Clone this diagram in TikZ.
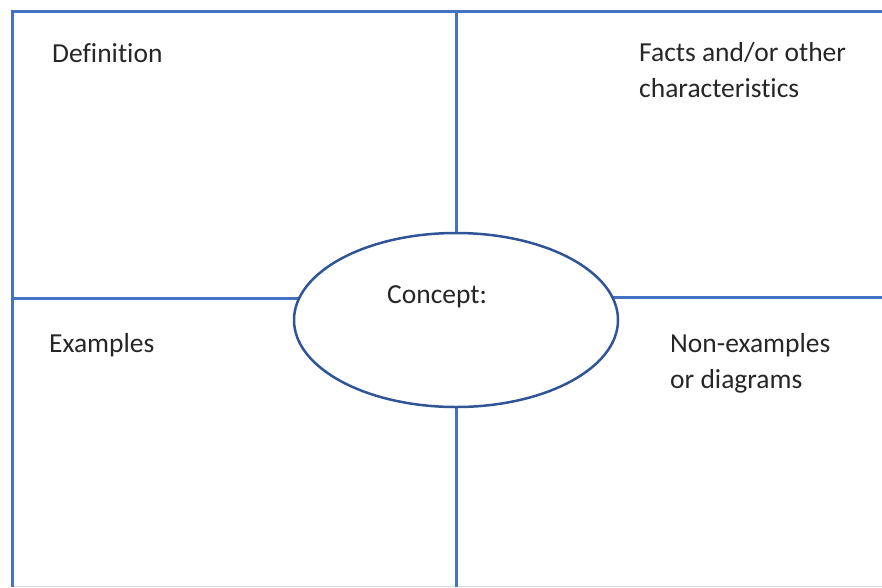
\documentclass[tikz,border=0pt]{standalone}
\usepackage{fontspec}
\setmainfont[Ligatures=NoCommon]{Carlito}
\usetikzlibrary{shapes.geometric,backgrounds}
\definecolor{frameblue}{HTML}{4472C4}
\definecolor{ovalblue}{HTML}{2F5597}
\definecolor{textgray}{HTML}{262626}
\definecolor{edgegray}{HTML}{D6DCEC}
\tikzset{
  frame/.style={draw=frameblue,line width=3pt},
  cell/.style={anchor=base west,inner sep=0pt,align=left,text=textgray,
    font=\fontsize{27.5}{36}\selectfont},
}
\begin{document}
\begin{tikzpicture}[x=1pt,y=-1pt]
   \useasboundingbox (0,0) rectangle (882,587);
   % border corners
   \coordinate (tl) at (12,11);
   \coordinate (tr) at (882,11);
   \coordinate (bl) at (12,587);
   \coordinate (topmid) at (456,11);
   \coordinate (botmid) at (456,587);
   \coordinate (leftmid) at (12,298);
   \coordinate (rightmid) at (882,297);

   \node[ellipse,draw=ovalblue,fill=white,line width=2.5pt,minimum width=324pt,
     minimum height=174pt,inner sep=0pt] (concept) at (456,320) {};

   \begin{scope}[on background layer]
   \draw[edgegray,line width=1pt] (12,586) -- (882,586);
   \draw[frame] (bl) -- (tl) -- (tr);
   \draw[frame] (topmid) -- (concept.center) -- (botmid);
   \draw[frame] (leftmid) -- (concept.center |- leftmid);
   \draw[frame] (rightmid) -- (concept.center |- rightmid);
   \end{scope}

   \node[cell] (conceptlbl) at (387,303) {Concept:};
   \node[cell] (definition) at (52,62) {Definition};
   \node[cell] (facts) at (639,97) {Facts and/or other\\characteristics};
   \node[cell] (examples) at (49,352) {Examples};
   \node[cell] (nonexamples) at (670,388) {Non-examples\\or diagrams};
 \end{tikzpicture}
\end{document}
